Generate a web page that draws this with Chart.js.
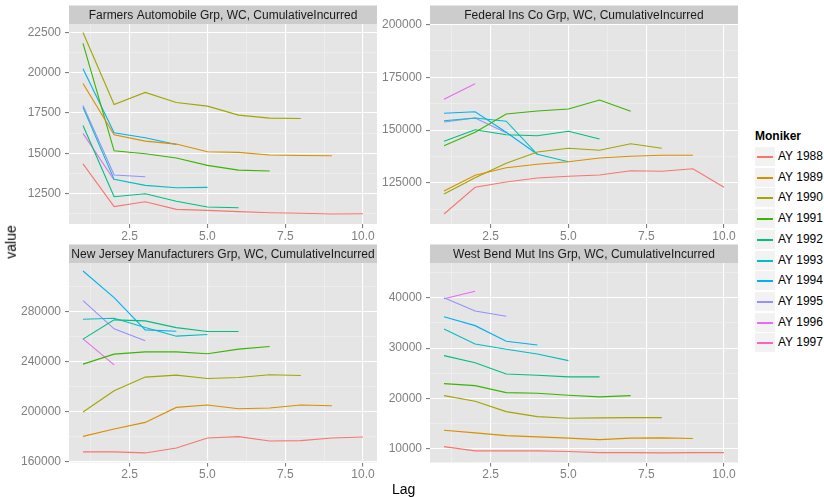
<!DOCTYPE html>
<html>
<head>
<meta charset="utf-8">
<script src="https://cdn.jsdelivr.net/npm/chart.js@4"></script>
<style>
  body { margin: 0; background: #fff; font-family: "Liberation Sans", Arial, sans-serif; }
  #wrap { position: relative; width: 824px; height: 497px; overflow: hidden; }
  canvas { position: absolute; }
  .title { position: absolute; font-size: 14px; color: #000; white-space: nowrap; }
  #legend { position: absolute; left: 755px; top: 129px; width: 69px; height: 230px; font-size: 12px; white-space: nowrap; color: #000; }
  #legend .head { position: absolute; left: 0; top: 0; font-weight: bold; }
  #legend .row { position: absolute; left: 0; height: 20px; width: 69px; }
  #legend .key { position: absolute; left: 0; top: 0; width: 20px; height: 19px; background: #F2F2F2; }
  #legend .key i { position: absolute; left: 2px; right: 2px; top: 9px; height: 1.5px; }
  #legend .lab { position: absolute; left: 23px; top: 2px; }
</style>
</head>
<body>
<div id="wrap">
  <canvas id="c1" width="377" height="243" style="left:0;top:0"></canvas>
  <canvas id="c2" width="361" height="243" style="left:377px;top:0"></canvas>
  <canvas id="c3" width="377" height="254" style="left:0;top:243px"></canvas>
  <canvas id="c4" width="361" height="254" style="left:377px;top:243px"></canvas>
  <div class="title" style="left:-6px;top:234px;transform:rotate(-90deg)">value</div>
  <div class="title" style="left:392px;top:481px">Lag</div>
  <div id="legend"></div>
</div>
<script>
const years = ['AY 1988', 'AY 1989', 'AY 1990', 'AY 1991', 'AY 1992', 'AY 1993', 'AY 1994', 'AY 1995', 'AY 1996', 'AY 1997'];
const colors = ['#F8766D', '#D89000', '#A3A500', '#39B600', '#00BF7D', '#00BFC4', '#00B0F6', '#9590FF', '#E76BF3', '#FF62BC'];

const xMajor = [2.5, 5, 7.5, 10];
const xMinor = [1.25, 3.75, 6.25, 8.75];

// one row per accident year, values for lag 1, 2, 3 ...
const farmers = [
  [14350, 11700, 12000, 11530, 11470, 11390, 11320, 11290, 11245, 11260],
  [19330, 16150, 15760, 15575, 15100, 15060, 14895, 14870, 14850],
  [22490, 18030, 18775, 18155, 17925, 17370, 17185, 17160],
  [21810, 15160, 14975, 14710, 14255, 13965, 13905],
  [16730, 12315, 12500, 12030, 11675, 11635],
  [17850, 13390, 13020, 12870, 12895],
  [20235, 16275, 15965, 15555],
  [17970, 13655, 13550],
  [16240, 13350],
  [15500]
];
const federal = [
  [110350, 122970, 125470, 127360, 128170, 128780, 130810, 130530, 131760, 122970],
  [121220, 128640, 132230, 133840, 135070, 136815, 137620, 138090, 138090],
  [119800, 127500, 134310, 139650, 141400, 140450, 143570, 141400],
  [142630, 148960, 157610, 159030, 159970, 164230, 158880],
  [144710, 150190, 147830, 147350, 149430, 145790],
  [154440, 155720, 154200, 138560, 135070],
  [157940, 158700, 149000, 138560],
  [153830, 155720, 148770],
  [164560, 171930],
  [196000]
];
const newJersey = [
  [167650, 167650, 166850, 170840, 178810, 179840, 176420, 176660, 178810, 179600],
  [180080, 185980, 191240, 203190, 205100, 202150, 202710, 205100, 204540],
  [199520, 216500, 227410, 229000, 226300, 227090, 229240, 228690],
  [237770, 245740, 247570, 247570, 245980, 249720, 251790],
  [257690, 273070, 272270, 266930, 263750, 263750],
  [273630, 274420, 266930, 260080, 261360],
  [312110, 290840, 265100, 264060],
  [288450, 265900, 256340],
  [257930, 237210],
  [275000]
];
const westBend = [
  [10440, 9590, 9590, 9590, 9450, 9250, 9250, 9190, 9250, 9250],
  [13690, 13160, 12620, 12360, 12110, 11830, 12110, 12170, 12030],
  [20560, 19450, 17380, 16390, 16070, 16130, 16190, 16190],
  [22940, 22540, 21150, 21030, 20640, 20300, 20560],
  [28490, 27100, 24860, 24600, 24270, 24270],
  [33790, 30810, 29760, 28830, 27500],
  [36230, 34450, 31350, 30620],
  [40000, 37360, 36310],
  [39800, 41270],
  [45000]
];

const farmersMajor = [12500, 15000, 17500, 20000, 22500];
const farmersMinor = [11250, 13750, 16250, 18750, 21250];
const federalMajor = [125000, 150000, 175000, 200000];
const federalMinor = [112500, 137500, 162500, 187500];
const newJerseyMajor = [160000, 200000, 240000, 280000];
const newJerseyMinor = [180000, 220000, 260000, 300000];
const westBendMajor = [10000, 20000, 30000, 40000];
const westBendMinor = [15000, 25000, 35000, 45000];

const FONT = '"Liberation Sans", Arial, sans-serif';
const STRIP_H = 18.5;

const panelPlugin = {
  id: 'panel',
  beforeDraw(chart, args, opts) {
    const { ctx, chartArea: a } = chart;
    ctx.save();
    ctx.fillStyle = '#E5E5E5';
    ctx.fillRect(a.left, a.top, a.right - a.left, a.bottom - a.top);
    ctx.fillStyle = '#CCCCCC';
    ctx.fillRect(a.left, a.top - STRIP_H, a.right - a.left, STRIP_H);
    ctx.fillStyle = '#1A1A1A';
    ctx.font = '12px ' + FONT;
    ctx.textAlign = 'center';
    ctx.textBaseline = 'middle';
    ctx.fillText(opts.text, (a.left + a.right) / 2, a.top - STRIP_H / 2 + 0.5);
    ctx.restore();
  }
};

const has = (arr, v) => arr.some(m => Math.abs(m - v) < 1e-6);

function gridFor(major) {
  return {
    color: c => has(major, c.tick.value) ? '#FFFFFF' : '#F2F2F2',
    lineWidth: c => has(major, c.tick.value) ? 1.1 : 0.6,
    tickColor: c => has(major, c.tick.value) ? '#7F7F7F' : 'rgba(0,0,0,0)',
    tickLength: 4,
    drawTicks: true
  };
}

function makePanel(id, title, rows, yMin, yMax, yMajor, yMinor, yWidth, xHeight, padTop, xPad) {
  const datasets = rows.map((vals, i) => ({
    label: years[i],
    data: vals.map((v, j) => ({ x: j + 1, y: v })),
    borderColor: colors[i],
    backgroundColor: colors[i],
    borderWidth: 1.1,
    pointRadius: 0,
    tension: 0,
    fill: false
  }));
  new Chart(document.getElementById(id), {
    type: 'line',
    data: { datasets },
    plugins: [panelPlugin],
    options: {
      responsive: false,
      animation: false,
      devicePixelRatio: 1,
      layout: { padding: { top: padTop, left: 0, right: 0, bottom: 0 } },
      plugins: { legend: { display: false }, tooltip: { enabled: false }, panel: { text: title } },
      scales: {
        x: {
          type: 'linear',
          min: 0.55,
          max: 10.45,
          border: { display: false },
          grid: gridFor(xMajor),
          afterBuildTicks: s => { s.ticks = xMajor.concat(xMinor).sort((a, b) => a - b).map(v => ({ value: v })); },
          afterFit: s => { s.height = xHeight; },
          ticks: {
            autoSkip: false,
            maxRotation: 0,
            padding: xPad,
            color: '#7F7F7F',
            font: { family: FONT, size: 12 },
            callback: v => has(xMajor, v) ? v.toFixed(1) : ''
          }
        },
        y: {
          type: 'linear',
          min: yMin,
          max: yMax,
          border: { display: false },
          grid: gridFor(yMajor),
          afterBuildTicks: s => { s.ticks = yMajor.concat(yMinor).filter(v => v >= yMin && v <= yMax).sort((a, b) => a - b).map(v => ({ value: v })); },
          afterFit: s => { s.width = yWidth; },
          ticks: {
            autoSkip: false,
            padding: 4,
            color: '#7F7F7F',
            font: { family: FONT, size: 12 },
            callback: v => has(yMajor, v) ? String(v) : ''
          }
        }
      }
    }
  });
}

makePanel('c1', 'Farmers Automobile Grp, WC, CumulativeIncurred', farmers, 10625, 23014, farmersMajor, farmersMinor, 69, 19, 24, 1.5);
makePanel('c2', 'Federal Ins Co Grp, WC, CumulativeIncurred', federal, 105620, 200150, federalMajor, federalMinor, 53, 19, 24, 1.5);
makePanel('c3', 'New Jersey Manufacturers Grp, WC, CumulativeIncurred', newJersey, 159200, 318500, newJerseyMajor, newJerseyMinor, 69, 34.5, 20, 0.6);
makePanel('c4', 'West Bend Mut Ins Grp, WC, CumulativeIncurred', westBend, 7280, 46885, westBendMajor, westBendMinor, 53, 34.5, 20, 0.6);

const legend = document.getElementById('legend');
let html = '<div class="head">Moniker</div>';
years.forEach((y, i) => {
  const top = Math.round(18 + i * 20.7);
  html += '<div class="row" style="top:' + top + 'px"><div class="key"><i style="background:' + colors[i] + '"></i></div><span class="lab">' + y + '</span></div>';
});
legend.innerHTML = html;
</script>
</body>
</html>
